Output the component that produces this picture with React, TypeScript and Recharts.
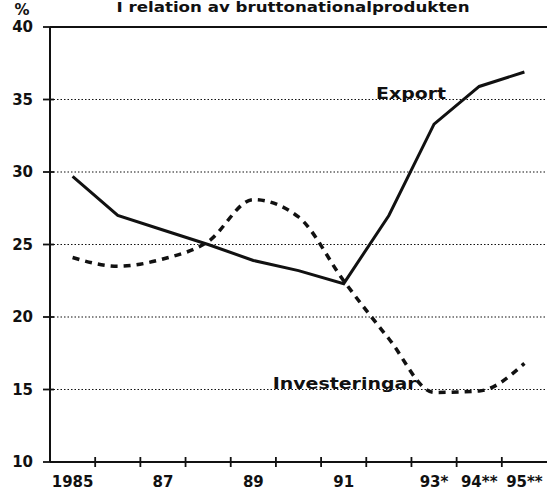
import React from 'react';
import { ComposedChart, Line, XAxis, YAxis, CartesianGrid, ReferenceLine, ReferenceDot } from 'recharts';

const years = ['1985', '86', '87', '88', '89', '90', '91', '92', '93*', '94**', '95**'];
const shownYears = ['1985', '87', '89', '91', '93*', '94**', '95**'];
const exportShare = [29.7, 27.0, 26.0, 25.0, 23.9, 23.2, 22.3, 27.0, 33.3, 35.9, 36.9];
const investShare = [24.1, 23.5, 24.0, 25.2, 28.1, 26.9, 22.5, 18.5, 14.8, 14.9, 16.8];
const yTicks = [10, 15, 20, 25, 30, 35, 40];

const data = years.map((year, i) => ({
  year,
  export: exportShare[i],
  invest: investShare[i],
}));

const ink = '#111';
const font = '"DejaVu Sans", sans-serif';

const YTick = (props: any) => {
  const { x, y, payload } = props;
  return (
    <g>
      <line x1={x - 7} x2={x + 4} y1={y} y2={y} stroke={ink} strokeWidth={1.8} />
      <text x={x - 17} y={y} dy="0.36em" textAnchor="end" fontFamily={font} fontWeight="bold" fontSize={15} fill={ink}>
        {payload.value}
      </text>
    </g>
  );
};

const XTick = (props: any) => {
  const { x, y, payload, index } = props;
  const half = payload.offset ?? 0;
  const label = shownYears.includes(payload.value) ? payload.value : '';
  return (
    <g>
      {index > 0 && <line x1={x - half} x2={x - half} y1={y - 5} y2={y + 5} stroke={ink} strokeWidth={1.8} />}
      <text x={x} y={y + 25} textAnchor="middle" fontFamily={font} fontWeight="bold" fontSize={15} fill={ink}>
        {label}
      </text>
    </g>
  );
};

const seriesLabel = (text: string, width: number, dx: number) => (props: any) => {
  const { viewBox } = props;
  const cx = viewBox.x + viewBox.width / 2;
  const cy = viewBox.y + viewBox.height / 2;
  return (
    <text
      x={cx + dx}
      y={cy - 1}
      textAnchor="middle"
      fontFamily={font}
      fontWeight="bold"
      fontSize={15}
      fill={ink}
      textLength={width}
      lengthAdjust="spacingAndGlyphs"
    >
      {text}
    </text>
  );
};

export default function App() {
  return (
    <div style={{ position: 'absolute', left: 0, top: 0, width: 553, height: 492, background: '#fff' }}>
      <ComposedChart width={553} height={492} data={data} margin={{ top: 27, right: 6, bottom: 0, left: 0 }}>
        <CartesianGrid vertical={false} stroke={ink} strokeWidth={1.2} strokeDasharray="1.5 2" />
        <XAxis
          dataKey="year"
          type="category"
          scale="band"
          interval={0}
          height={30}
          tickSize={0}
          tickMargin={0}
          tickLine={false}
          axisLine={{ stroke: ink, strokeWidth: 2 }}
          tick={<XTick />}
        />
        <YAxis
          domain={[10, 40]}
          ticks={yTicks}
          width={50}
          tickSize={0}
          tickMargin={0}
          tickLine={false}
          axisLine={{ stroke: ink, strokeWidth: 2 }}
          tick={<YTick />}
        />
        <YAxis yAxisId="frame" orientation="right" domain={[10, 40]} width={0} tick={false} tickLine={false} axisLine={{ stroke: ink, strokeWidth: 2 }} />
        <ReferenceLine y={40} stroke={ink} strokeWidth={2} />
        <Line
          dataKey="export"
          type="linear"
          stroke={ink}
          strokeWidth={3}
          dot={false}
          isAnimationActive={false}
        />
        <Line
          dataKey="invest"
          type="monotone"
          stroke={ink}
          strokeWidth={3.5}
          strokeDasharray="7 6"
          dot={false}
          isAnimationActive={false}
        />
        <ReferenceDot x="93*" y={35} r={0} stroke="none" label={{ content: seriesLabel('Export', 70, -23) }} />
        <ReferenceDot x="91" y={15} r={0} stroke="none" label={{ content: seriesLabel('Investeringar', 144, 1) }} />
      </ComposedChart>
      <svg width={553} height={492} style={{ position: 'absolute', left: 0, top: 0, pointerEvents: 'none' }}>
        <text x={293} y={12} textAnchor="middle" fontFamily={font} fontWeight="bold" fontSize={14} fill={ink} textLength={353} lengthAdjust="spacingAndGlyphs">
          I relation av bruttonationalprodukten
        </text>
        <text x={22} y={15} textAnchor="middle" fontFamily={font} fontWeight="bold" fontSize={15} fill={ink}>
          %
        </text>
      </svg>
    </div>
  );
}
